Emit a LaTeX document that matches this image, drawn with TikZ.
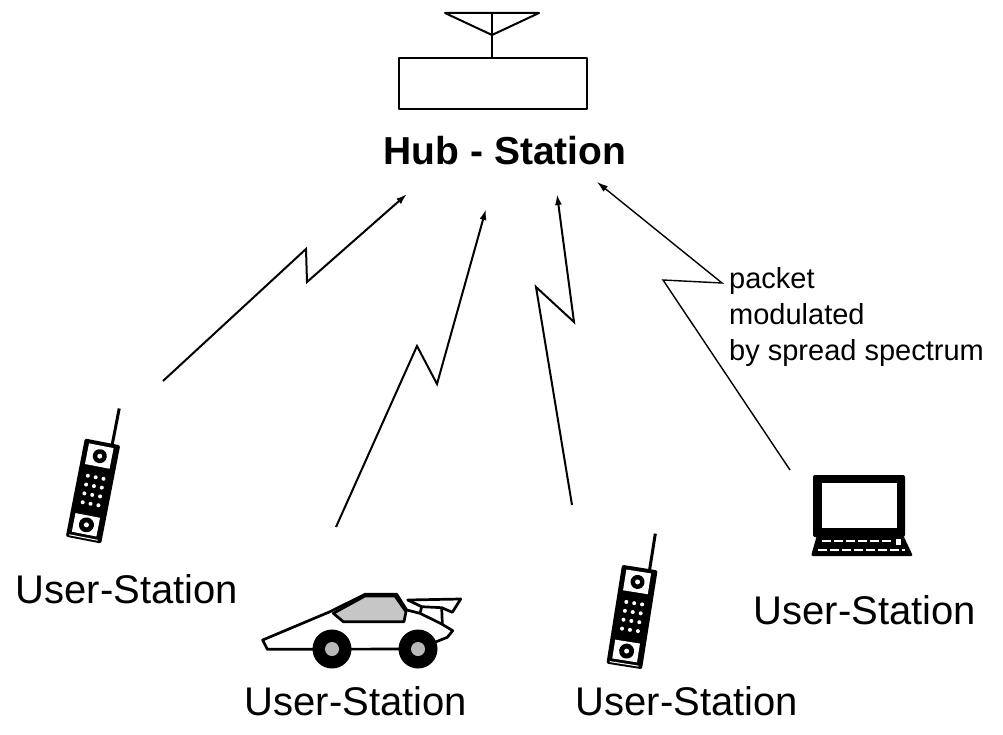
\documentclass[tikz,border=0pt]{standalone}
\usepackage{fontspec}
\setmainfont{Liberation Sans}
\usetikzlibrary{arrows.meta}

\begin{document}
\begin{tikzpicture}[x=1pt,y=-1pt,
  link/.style={-{Latex[length=11pt,width=7pt]},line width=2pt,miter limit=20},
  thinlink/.style={link,line width=1.4pt},
  lbl/.style={font=\fontsize{40}{48}\selectfont,anchor=base,inner sep=0pt},
  ann/.style={font=\fontsize{29}{36}\selectfont,align=left,anchor=north west,inner sep=0pt},
  outline/.style={line width=2pt,line join=round},
  carline/.style={line width=2.7pt,line join=round}]
\useasboundingbox (0,0) rectangle (1003,735);
% hub with its antenna
\node[draw,outline,minimum width=188pt,minimum height=51pt,inner sep=0pt]
  (hubbox) at (493,83.5) {};
\coordinate (apex) at (492,35);
\draw[outline] (445,13)--(539,13)--(apex)--cycle;
\draw[outline] (492,13)--(hubbox.north-|apex);
\node[lbl,font=\fontsize{39}{46}\selectfont\bfseries] (hub) at (505,165) {Hub - Station};
% handsets
\foreach \px/\py/\tilt in {93/491/-11,632/617/-9}{
 \begin{scope}[shift={(\px,\py)},rotate=\tilt]
  \draw[line width=3pt] (10,-48)--(10,-86);
  \fill[rounded corners=2pt] (-18,-50) rectangle (18,50);
  \fill[white] (-13,-46) rectangle (12,-25);
  \fill (0,-35.5) circle (7pt);
  \fill[white] (0,-35.5) circle (2.5pt);
  \foreach \r in {-14,-5,4,13}
   \foreach \c in {-8,0,8}
    \fill[white] (\c,\r) circle (2pt);
  \fill[white] (-13,25) rectangle (12,44);
  \fill (0,34.5) circle (7.5pt);
  \fill[white] (0,34.5) circle (2.5pt);
  \draw[white,line width=1pt] (-15,47.5)--(14,47.5);
 \end{scope}}
% car
\draw[carline,fill=white] (262.7,640)--(330,611.7)--(365,594.3)--(396.7,594.3)
  --(406.7,610)--(420,613.3)--(441.7,624)--(452.7,630.7)--(447.3,637.3)
  --(418,649)--(267.3,649.3)--cycle;
\draw[carline,fill=gray!45] (333.3,613.3)--(365,596)--(395,596)--(406,611.7)
  --(404,621.7)--(343.3,621.7)--cycle;
\draw[carline,fill=white] (407.7,600)--(460.7,599)--(452.3,612.3)--(441.7,607.7)
  --(421.7,606.7)--cycle;
\draw[carline] (441.7,607.7)--(442.3,624) (421.7,606.7)--(420,613.3);
\foreach \wx in {332,418}{
  \fill (\wx,649) circle (19.5pt);
  \fill[gray!55] (\wx,649) circle (7pt);
}
% laptop
\fill[rounded corners=2pt] (813,475) rectangle (905,537);
\fill[white] (822,483) rectangle (897,528);
\fill[rounded corners=2pt] (817,535)--(903,535)--(913,556)--(811,556)--cycle;
\draw[white,line width=1.5pt,dash pattern=on 9pt off 3pt] (822,541)--(893,541);
\draw[white,line width=1.5pt,dash pattern=on 9pt off 3pt] (818,550)--(905,550);
\fill[white] (896,539) rectangle (901,545);
% station labels
\node[lbl] (us1) at (127,603) {User-Station};
\node[lbl] (us2) at (356,715) {User-Station};
\node[lbl] (us3) at (687,715) {User-Station};
\node[lbl] (us4) at (865,624) {User-Station};
% radio links
\coordinate (s1) at (163,381); \coordinate (t1) at (407,194);
\coordinate (s2) at (336,527); \coordinate (t2) at (486,209);
\coordinate (s3) at (572,505); \coordinate (t3) at (557,194);
\coordinate (s4) at (790,470); \coordinate (t4) at (597,182);
\draw[link] (s1)--(306,249)--(307,282)--(t1);
\draw[link] (s2)--(417,346)--(437,384)--(t2);
\draw[link] (s3)--(536,287)--(574,322)--(t3);
\draw[thinlink] (s4)--(663,280)--(722,283)--(t4);
\node[ann] (pkt) at (729,267.2) {packet\\modulated\\by spread spectrum};
\end{tikzpicture}
\end{document}
